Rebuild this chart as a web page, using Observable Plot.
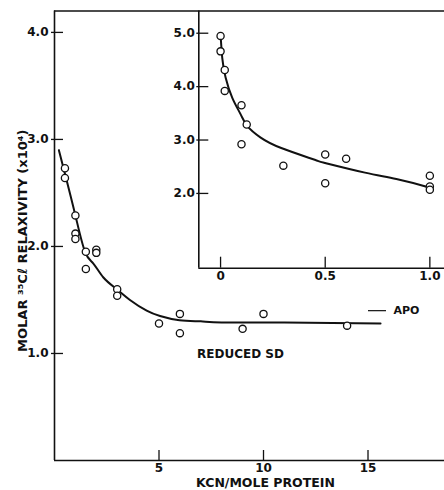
<!DOCTYPE html>
<html><head><meta charset="utf-8">
<script src="https://cdn.jsdelivr.net/npm/d3@7"></script>
<script src="https://cdn.jsdelivr.net/npm/@observablehq/plot@0.6"></script>
<style>
body{margin:0;background:#fff;}
#wrap{position:relative;width:444px;height:490px;overflow:hidden;background:#fff;}
#wrap svg{position:absolute;background:transparent;max-width:none;}
</style></head><body><div id="wrap"></div>
<script>
// Main panel: reduced SD
const mainX = [0.5, 0.5, 1, 1, 1, 1.5, 2, 2, 1.5, 3, 3, 5, 6, 6, 9, 10, 14];
const mainY = [2.73, 2.64, 2.29, 2.12, 2.07, 1.95, 1.97, 1.94, 1.79, 1.60, 1.54, 1.28, 1.37, 1.19, 1.23, 1.37, 1.26];
const mainFitX = [0.21, 0.5, 1.0, 1.46, 1.86, 2.34, 2.98, 3.61, 4.41, 5.05, 5.98, 7.0, 8.0, 11.0, 15.6];
const mainFitY = [2.90, 2.68, 2.29, 1.95, 1.84, 1.71, 1.60, 1.50, 1.40, 1.35, 1.31, 1.30, 1.29, 1.29, 1.28];
const apoLevel = [1.40];
const mainXTicks = [5, 10, 15];
const mainYTicks = [1, 2, 3, 4];
const mainXDomain = [0, 18.66];
const mainYDomain = [0, 4.20];

// Inset panel
const insetX = [0, 0, 0.02, 0.02, 0.1, 0.125, 0.1, 0.3, 0.5, 0.5, 0.6, 1, 1, 1];
const insetY = [4.95, 4.66, 4.31, 3.92, 3.65, 3.29, 2.92, 2.52, 2.73, 2.19, 2.65, 2.33, 2.13, 2.07];
const insetFitX = [0.0, 0.008, 0.024, 0.056, 0.096, 0.128, 0.19, 0.29, 0.45, 0.5, 0.69, 0.84, 0.98, 0.995];
const insetFitY = [4.98, 4.54, 4.17, 3.79, 3.48, 3.26, 3.05, 2.85, 2.63, 2.57, 2.39, 2.27, 2.13, 2.10];
const insetXTicks = [0, 0.5, 1.0];
const insetYTicks = [2, 3, 4, 5];
const insetXDomain = [-0.104, 1.070];
const insetYDomain = [0.6, 5.416];

const ink = "#111";
const font = {fontFamily: "DejaVu Sans", fontWeight: "bold", fontSize: "12px", color: ink, background: "transparent"};

const mi = d3.range(mainX.length);
const mf = d3.range(mainFitX.length);

const main = Plot.plot({
  width: 444, height: 490,
  marginLeft: 54, marginRight: 0, marginTop: 10.5, marginBottom: 30,
  style: font,
  x: {domain: mainXDomain},
  y: {domain: mainYDomain},
  marks: [
    Plot.ruleX([mainXDomain[0]], {stroke: ink, strokeWidth: 1.6}),
    Plot.ruleY([mainYDomain[0]], {stroke: ink, strokeWidth: 1.6}),
    Plot.ruleY([mainYDomain[1]], {stroke: ink, strokeWidth: 1.4}),
    Plot.axisY({ticks: mainYTicks, tickSize: 0, tickPadding: 6, tickFormat: d3.format(".1f"), label: null, fontSize: 12}),
    Plot.axisY({ticks: mainYTicks, tickSize: -12, dx: -3, text: null, label: null, stroke: ink, strokeWidth: 1.3}),
    Plot.axisX({ticks: mainXTicks, tickSize: 0, tickPadding: 3, tickFormat: d3.format("d"), label: null, fontSize: 12}),
    Plot.axisX({ticks: mainXTicks, tickSize: -10, text: null, label: null, stroke: ink, strokeWidth: 1.3}),
    Plot.line(mf, {x: i => mainFitX[i], y: i => mainFitY[i], curve: "natural", stroke: ink, strokeWidth: 2}),
    Plot.dot(mi, {x: i => mainX[i], y: i => mainY[i], r: 3.6, stroke: ink, strokeWidth: 1.3, fill: "white"}),
    Plot.ruleY(apoLevel, {insetLeft: 314, insetRight: 58, stroke: ink, strokeWidth: 1.2}),
    Plot.text(apoLevel, {y: d => d, text: () => "APO", frameAnchor: "left", dx: 339, textAnchor: "start", fontSize: 11, fill: ink}),
    Plot.text(["REDUCED SD"], {frameAnchor: "bottom-left", dx: 186, dy: -106, textAnchor: "middle", lineAnchor: "middle", fontSize: 12, fill: ink}),
    Plot.text(["KCN/MOLE PROTEIN"], {frameAnchor: "bottom", dx: 16, dy: 22, lineAnchor: "middle", fontSize: 12.5, fill: ink}),
    Plot.text(["MOLAR \u00B3\u2075C\u2113 RELAXIVITY (x10\u2074)"], {frameAnchor: "left", dx: -32, dy: 5, rotate: -90, textAnchor: "middle", lineAnchor: "middle", fontSize: 13, fill: ink})
  ]
});
main.style.left = "0px"; main.style.top = "0px";

const ii = d3.range(insetX.length);
const iff = d3.range(insetFitX.length);

const inset = Plot.plot({
  width: 274, height: 290,
  marginLeft: 28.3, marginRight: 0, marginTop: 10.5, marginBottom: 22.3,
  style: font,
  x: {domain: insetXDomain},
  y: {domain: insetYDomain},
  marks: [
    Plot.ruleX([insetXDomain[0]], {stroke: ink, strokeWidth: 1.6}),
    Plot.ruleY([insetYDomain[0]], {stroke: ink, strokeWidth: 1.6}),
    Plot.axisY({ticks: insetYTicks, tickSize: 0, tickPadding: 4, tickFormat: d3.format(".1f"), label: null, fontSize: 12}),
    Plot.axisY({ticks: insetYTicks, tickSize: -12, dx: -2, text: null, label: null, stroke: ink, strokeWidth: 1.3}),
    Plot.axisX({ticks: insetXTicks, tickSize: 0, tickPadding: 3, tickFormat: d => d === 0 ? "0" : d.toFixed(1), label: null, fontSize: 12}),
    Plot.axisX({ticks: insetXTicks, tickSize: -11, text: null, label: null, stroke: ink, strokeWidth: 1.3}),
    Plot.line(iff, {x: i => insetFitX[i], y: i => insetFitY[i], curve: "natural", stroke: ink, strokeWidth: 2}),
    Plot.dot(ii, {x: i => insetX[i], y: i => insetY[i], r: 3.6, stroke: ink, strokeWidth: 1.3, fill: "white"})
  ]
});
inset.style.left = "170px"; inset.style.top = "0px";

const wrap = document.getElementById("wrap");
wrap.appendChild(main);
wrap.appendChild(inset);
</script></body></html>
